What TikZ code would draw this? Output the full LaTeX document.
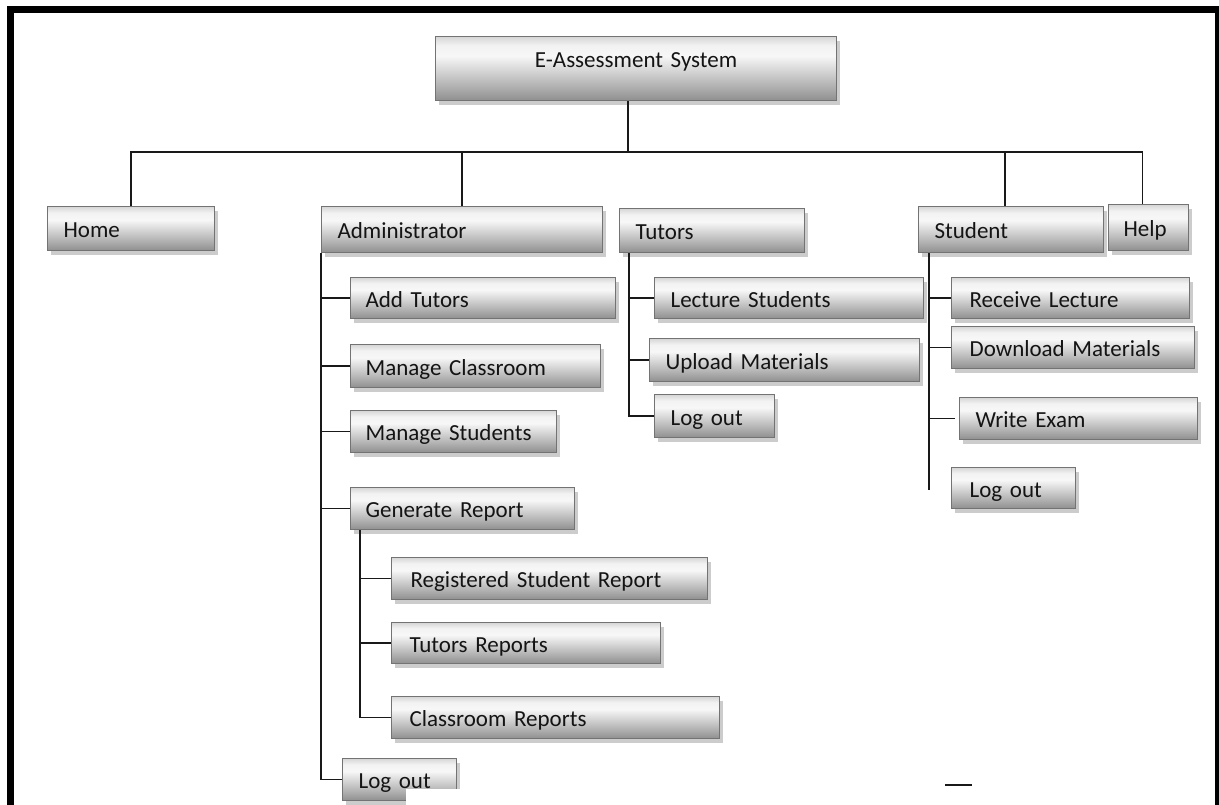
\documentclass[tikz,border=0pt]{standalone}
\usepackage{fontspec}
\setmainfont{Carlito}
\usetikzlibrary{shadows}
\pgfdeclareverticalshading{boxshade}{100bp}{color(0bp)=(black!44); color(25bp)=(black!44); color(35bp)=(black!32); color(60bp)=(black!3); color(68bp)=(black!5); color(75bp)=(black!16); color(100bp)=(black!16)}
\tikzset{
  box/.style={draw=black!55, line width=1.2pt, shading=boxshade, anchor=north west,
    inner ysep=0pt, inner xsep=16pt, align=left, text=black!92,
    font=\fontsize{23}{26}\selectfont, text height=21pt, text depth=3pt,
    drop shadow={shadow xshift=3pt, shadow yshift=-4pt, fill=black, opacity=0.2}},
  conn/.style={line width=1.5pt, black!90},
  frame/.style={black, line cap=butt, line join=miter}
}
\newcommand\bx[7][]{%
  \node[box, text width={(#5-#3)*1pt-32pt}, minimum height={(#6-#4)*1pt}, #1] (#2) at (#3,#4) {#7};}
\begin{document}
\begin{tikzpicture}[x=1pt,y=-1pt]
\useasboundingbox (0,0) rectangle (1219,805);
\clip (0,0) rectangle (1219,805);
% frame
\draw[frame, line width=7pt] (10.5,805) -- (10.5,9.5) -- (1219,9.5);
\draw[frame, line width=4pt] (1217,9.5) -- (1217,805);
% boxes
\bx[align=center, text height=15pt, text depth=17pt]{top}{435}{36}{836}{100}{E-Assessment System}
\bx{home}{47}{206}{214}{250}{Home}
\bx{admin}{321}{206}{602}{252}{Administrator}
\bx{tutors}{619}{208}{804}{252}{Tutors}
\bx{student}{918}{206}{1103}{252}{Student}
\bx[inner xsep=15pt]{help}{1108}{204}{1190}{250}{Help}
\bx[inner xsep=15pt]{addt}{350}{277}{617}{318}{Add Tutors}
\bx[inner xsep=15pt]{mclass}{350}{344}{602}{387}{Manage Classroom}
\bx[inner xsep=15pt]{mstud}{350}{410}{558}{452}{Manage Students}
\bx[inner xsep=15pt]{gen}{350}{487}{576}{529}{Generate Report}
\bx[inner xsep=19pt]{rsr}{391}{557}{701}{599}{Registered Student Report}
\bx[inner xsep=18pt]{trep}{391}{622}{656}{663}{Tutors Reports}
\bx[inner xsep=18pt]{crep}{391}{696}{715}{738}{Classroom Reports}
\bx{alog}{342}{758}{456}{800}{Log out}
\bx{lect}{654}{277}{923}{318}{Lecture Students}
\bx{upl}{649}{338}{919}{381}{Upload Materials}
\bx{tlog}{654}{394}{774}{437}{Log out}
\bx[inner xsep=18pt]{recv}{951}{277}{1185}{318}{Receive Lecture}
\bx[inner xsep=18pt]{down}{951}{326}{1190}{368}{Download Materials}
\bx{write}{959}{397}{1197}{439}{Write Exam}
\bx[inner xsep=18pt]{slog}{951}{467}{1071}{508}{Log out}
% white patch over the bottom of the admin Log out box
\fill[white] (406,789) rectangle (480,805);
% top level connectors
\coordinate (bus) at (627,152);
\draw[conn] ([xshift=-8pt]top.south) -- ([xshift=-8pt]top.south |- bus);
\draw[conn] (home.north) -- (home.north |- bus) -- ([xshift=-6pt]help.north |- bus) -- ([xshift=-6pt]help.north);
\draw[conn] (admin.north) -- (admin.north |- bus);
\draw[conn] ([xshift=-6pt]student.north) -- ([xshift=-6pt]student.north |- bus);
% administrator tree
\draw[conn] (admin.south west) |- (alog.west);
\draw[conn] (admin.south west |- addt.west) -- (addt.west);
\draw[conn] (admin.south west |- mclass.west) -- (mclass.west);
\draw[conn] (admin.south west |- mstud.west) -- (mstud.west);
\draw[conn] (admin.south west |- gen.west) -- (gen.west);
% generate report tree
\coordinate (gv) at ([xshift=10pt]gen.south west);
\draw[conn] (gv) |- (crep.west);
\draw[conn] (gv |- rsr.west) -- (rsr.west);
\draw[conn] (gv |- trep.west) -- (trep.west);
% tutors tree
\coordinate (tv) at ([xshift=10pt]tutors.south west);
\draw[conn] (tv) |- (tlog.west);
\draw[conn] (tv |- lect.west) -- (lect.west);
\draw[conn] (tv |- upl.west) -- (upl.west);
% student tree
\coordinate (sv) at ([xshift=11pt]student.south west);
\coordinate (svend) at (929,490);
\draw[conn] (sv) -- (svend);
\draw[conn] (sv |- recv.west) -- (recv.west);
\draw[conn] (sv |- down.west) -- (down.west);
\draw[conn] (sv |- write.west) -- ([xshift=-4pt]write.west);
% stray mark
\coordinate (m1) at (945,785);
\coordinate (m2) at (972,785);
\draw[conn] (m1) -- (m2);
\end{tikzpicture}
\end{document}
